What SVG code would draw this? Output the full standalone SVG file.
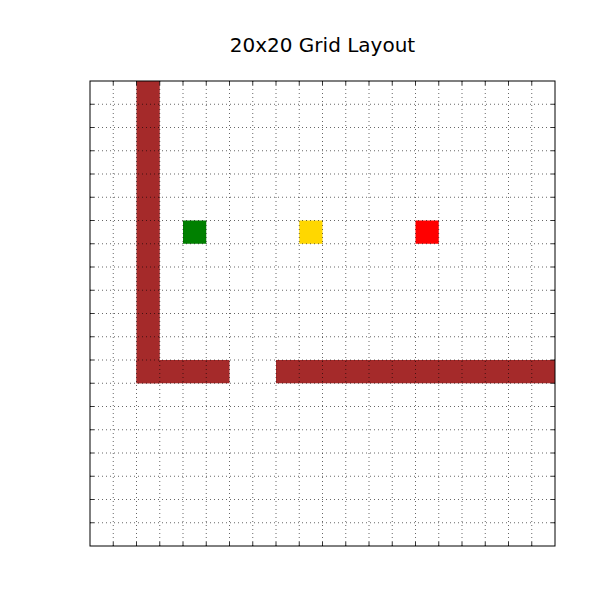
<svg xmlns="http://www.w3.org/2000/svg" width="600" height="600" viewBox="0 0 600 600">
<style>
.wall{fill:#A52A2A}
.grid{stroke:#000;stroke-width:0.6;stroke-dasharray:1,3;fill:none}
.tick{stroke:#000;stroke-width:0.8;fill:none}
.title{font-family:"DejaVu Sans",sans-serif;font-size:20px;fill:#000}
</style>
<rect width="600" height="600" fill="#fff"/>
<text class="title" x="322.5" y="52" text-anchor="middle">20x20 Grid Layout</text>
<g id="walls">
<rect class="wall" x="136.5" y="81" width="23.25" height="302.25"/>
<rect class="wall" x="136.5" y="360" width="93" height="23.25"/>
<rect class="wall" x="276" y="360" width="279" height="23.25"/>
</g>
<g id="start"><rect x="183" y="220.5" width="23.25" height="23.25" fill="#008000"/></g>
<g id="waypoint"><rect x="299.25" y="220.5" width="23.25" height="23.25" fill="#FFD700"/></g>
<g id="goal"><rect x="415.5" y="220.5" width="23.25" height="23.25" fill="#FF0000"/></g>
<g id="grid">
<path class="grid" d="M113.25 81V546M136.5 81V546M159.75 81V546M183 81V546M206.25 81V546M229.5 81V546M252.75 81V546M276 81V546M299.25 81V546M322.5 81V546M345.75 81V546M369 81V546M392.25 81V546M415.5 81V546M438.75 81V546M462 81V546M485.25 81V546M508.5 81V546M531.75 81V546
M90 104.25H555M90 127.5H555M90 150.75H555M90 174H555M90 197.25H555M90 220.5H555M90 243.75H555M90 267H555M90 290.25H555M90 313.5H555M90 336.75H555M90 360H555M90 383.25H555M90 406.5H555M90 429.75H555M90 453H555M90 476.25H555M90 499.5H555M90 522.75H555"/>
</g>
<g id="ticks">
<path class="tick" d="M113.25 546v-4M136.5 546v-4M159.75 546v-4M183 546v-4M206.25 546v-4M229.5 546v-4M252.75 546v-4M276 546v-4M299.25 546v-4M322.5 546v-4M345.75 546v-4M369 546v-4M392.25 546v-4M415.5 546v-4M438.75 546v-4M462 546v-4M485.25 546v-4M508.5 546v-4M531.75 546v-4
M113.25 81v4M136.5 81v4M159.75 81v4M183 81v4M206.25 81v4M229.5 81v4M252.75 81v4M276 81v4M299.25 81v4M322.5 81v4M345.75 81v4M369 81v4M392.25 81v4M415.5 81v4M438.75 81v4M462 81v4M485.25 81v4M508.5 81v4M531.75 81v4
M90 104.25h4M90 127.5h4M90 150.75h4M90 174h4M90 197.25h4M90 220.5h4M90 243.75h4M90 267h4M90 290.25h4M90 313.5h4M90 336.75h4M90 360h4M90 383.25h4M90 406.5h4M90 429.75h4M90 453h4M90 476.25h4M90 499.5h4M90 522.75h4
M555 104.25h-4M555 127.5h-4M555 150.75h-4M555 174h-4M555 197.25h-4M555 220.5h-4M555 243.75h-4M555 267h-4M555 290.25h-4M555 313.5h-4M555 336.75h-4M555 360h-4M555 383.25h-4M555 406.5h-4M555 429.75h-4M555 453h-4M555 476.25h-4M555 499.5h-4M555 522.75h-4"/>
</g>
<rect id="frame" x="90" y="81" width="465" height="465" fill="none" stroke="#000" stroke-width="1"/>
</svg>
